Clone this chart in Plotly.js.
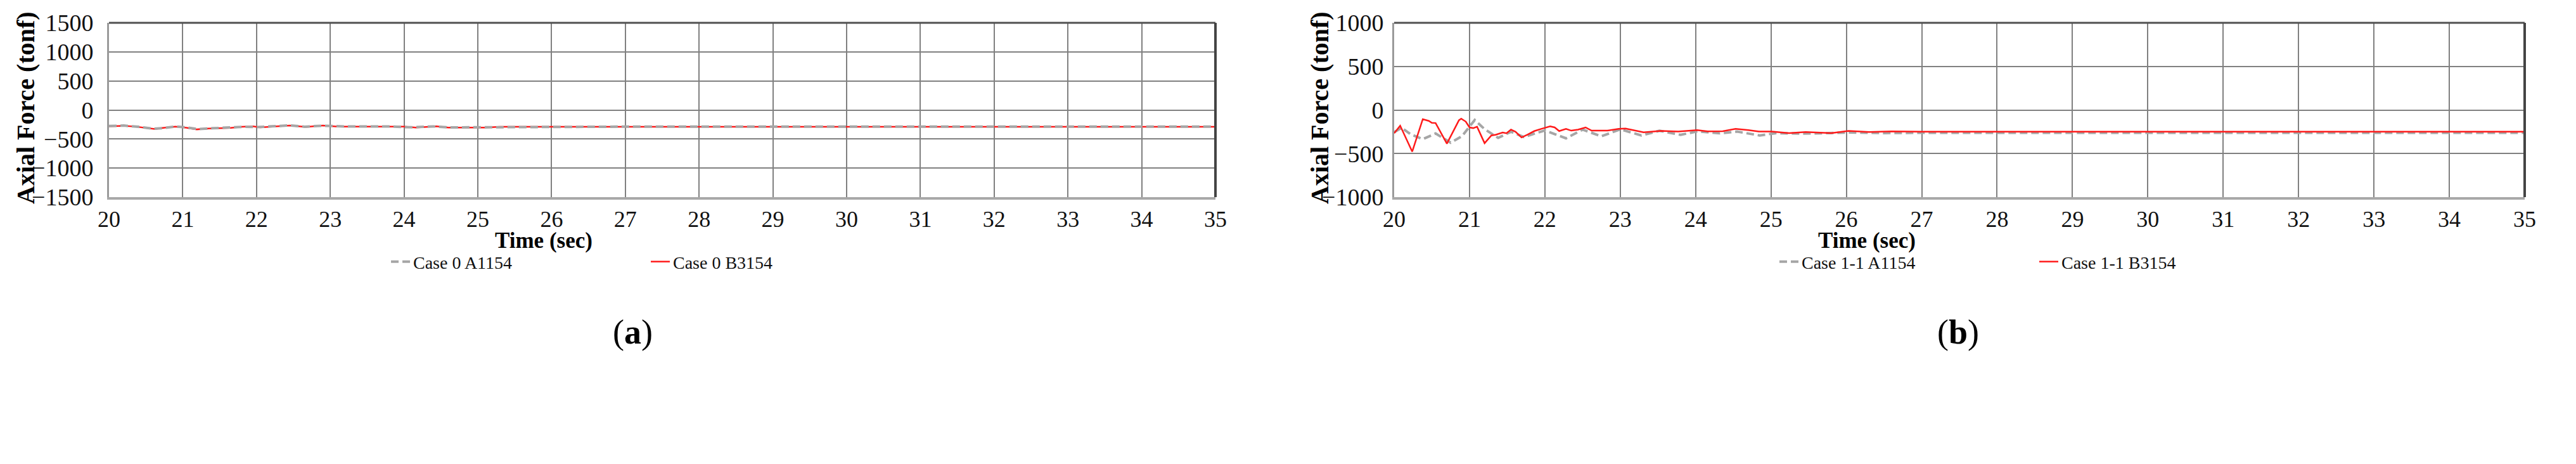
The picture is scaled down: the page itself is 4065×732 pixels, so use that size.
<!DOCTYPE html>
<html>
<head>
<meta charset="utf-8">
<script src="https://cdn.plot.ly/plotly-3.0.1.min.js"></script>
<style>
html, body { margin: 0; padding: 0; background: #fff; }
#plot { width: 4065px; height: 732px; }
</style>
</head>
<body>
<div id="plot"></div>
<script>
// (a) Case 0
const timeA1154_c0 = [20.0, 20.2, 20.4, 20.6, 20.75, 20.9, 21.05, 21.2, 21.4, 21.6, 21.85, 22.0, 22.2, 22.45, 22.65, 22.9, 23.2, 23.8, 24.1, 24.4, 24.6, 25.1, 25.4, 27, 29, 31, 33, 35];
const forceA1154_c0 = [-275, -268, -290, -322, -310, -283, -300, -328, -315, -306, -288, -295, -282, -265, -288, -270, -285, -285, -298, -283, -300, -298, -287, -287, -287, -287, -287, -287];
const timeB3154_c0 = [20.0, 20.2, 20.35, 20.5, 20.62, 20.75, 20.9, 21.05, 21.19, 21.35, 21.5, 21.65, 21.8, 21.95, 22.05, 22.25, 22.45, 22.67, 22.9, 23.1, 23.5, 24.0, 24.16, 24.3, 24.44, 24.6, 24.9, 25.1, 25.3, 27, 29, 31, 33, 35];
const forceB3154_c0 = [-282, -272, -285, -310, -326, -305, -287, -305, -334, -318, -312, -308, -290, -282, -300, -280, -268, -292, -268, -287, -287, -287, -303, -295, -282, -303, -300, -303, -289, -289, -289, -289, -289, -289];

// (b) Case 1-1
const timeA1154_c11 = [20.0, 20.1, 20.22, 20.38, 20.55, 20.75, 20.9, 21.07, 21.2, 21.38, 21.55, 21.72, 22.0, 22.28, 22.5, 22.75, 23.0, 23.28, 23.52, 23.8, 24.03, 24.32, 24.55, 24.85, 25.07, 25.4, 25.75, 26.05, 26.5, 27, 29, 31, 33, 35];
const forceA1154_c11 = [-255, -205, -280, -335, -270, -375, -300, -115, -220, -320, -250, -310, -235, -325, -225, -302, -222, -292, -238, -285, -245, -268, -248, -292, -266, -272, -266, -258, -265, -262, -262, -262, -262, -262];
const timeB3154_c11 = [20.0, 20.08, 20.24, 20.38, 20.46, 20.5, 20.55, 20.7, 20.86, 20.89, 20.95, 21.0, 21.05, 21.1, 21.2, 21.29, 21.35, 21.44, 21.49, 21.55, 21.61, 21.69, 21.77, 21.86, 21.95, 22.07, 22.13, 22.19, 22.28, 22.35, 22.44, 22.54, 22.62, 22.83, 22.98, 23.07, 23.31, 23.54, 23.77, 24.02, 24.16, 24.36, 24.53, 24.7, 24.84, 25.01, 25.24, 25.46, 25.8, 26.03, 26.3, 26.6, 27, 29, 31, 33, 35];
const forceB3154_c11 = [-267, -180, -478, -105, -125, -147, -150, -386, -117, -100, -133, -200, -208, -192, -381, -292, -283, -258, -267, -225, -250, -315, -283, -242, -217, -187, -200, -242, -217, -237, -225, -200, -237, -237, -217, -213, -257, -240, -248, -231, -245, -243, -217, -231, -248, -248, -266, -253, -266, -240, -253, -245, -250, -250, -250, -250, -250];

const xTicks = [20, 21, 22, 23, 24, 25, 26, 27, 28, 29, 30, 31, 32, 33, 34, 35];

const W = 4065, H = 732;
const px = v => v / W;
const py = v => 1 - v / H;

const serif = 'Liberation Serif, Times New Roman, serif';
const grayLine = { color: '#a6a6a6', width: 4, dash: '12px,6px' };
const redLine = { color: '#ff1a1a', width: 2.5 };

const traces = [
    { x: timeB3154_c0, y: forceB3154_c0, xaxis: 'x', yaxis: 'y', mode: 'lines', name: 'Case 0 B3154', line: redLine, legend: 'legend', legendrank: 2 },
    { x: timeA1154_c0, y: forceA1154_c0, xaxis: 'x', yaxis: 'y', mode: 'lines', name: 'Case 0 A1154', line: grayLine, legend: 'legend', legendrank: 1 },
    { x: timeA1154_c11, y: forceA1154_c11, xaxis: 'x2', yaxis: 'y2', mode: 'lines', name: 'Case 1-1 A1154', line: grayLine, legend: 'legend2', legendrank: 1 },
    { x: timeB3154_c11, y: forceB3154_c11, xaxis: 'x2', yaxis: 'y2', mode: 'lines', name: 'Case 1-1 B3154', line: redLine, legend: 'legend2', legendrank: 2 }
];

function xAxis(left, right, anchor) {
    return {
        domain: [px(left), px(right)], anchor: anchor, range: [20, 35],
        tickvals: xTicks, showgrid: true, gridcolor: '#808080', gridwidth: 2,
        showline: true, linecolor: '#a8a8a8', linewidth: 4, zeroline: false,
        ticks: '', ticklabelstandoff: 0,
        tickfont: { family: serif, size: 36, color: '#111' }
    };
}
function yAxis(lim, anchor, standoff) {
    return {
        domain: [py(311), py(36)], anchor: anchor, range: [-lim, lim], dtick: 500,
        showgrid: true, gridcolor: '#808080', gridwidth: 2,
        showline: true, linecolor: '#9a9a9a', linewidth: 3, zeroline: false,
        ticks: '', ticklabelstandoff: standoff,
        tickfont: { family: serif, size: 38, color: '#111' }
    };
}
function frame(xr, yr) {
    return [
        { type: 'line', xref: xr + ' domain', yref: yr + ' domain', x0: 0, x1: 1, y0: 1, y1: 1, line: { color: '#505050', width: 3 } },
        { type: 'line', xref: xr + ' domain', yref: yr + ' domain', x0: 1, x1: 1, y0: 0, y1: 1, line: { color: '#444', width: 4 } }
    ];
}
function legendAt(xLeft) {
    return {
        orientation: 'h', x: px(xLeft), xanchor: 'left', y: py(413), yanchor: 'middle',
        entrywidth: 365, bgcolor: 'rgba(0,0,0,0)',
        font: { family: serif, size: 28, color: '#111' }
    };
}
function note(text, x, y, size, bold, angle) {
    return {
        text: bold ? '<b>' + text + '</b>' : text, xref: 'paper', yref: 'paper',
        x: px(x), y: py(y), xanchor: 'center', yanchor: 'middle', showarrow: false,
        textangle: angle || 0, font: { family: serif, size: size, color: '#000' }
    };
}

const layout = {
    width: W, height: H,
    margin: { l: 0, r: 0, t: 0, b: 0 },
    paper_bgcolor: '#fff', plot_bgcolor: '#fff',
    showlegend: true,
    xaxis: xAxis(172, 1918, 'y'),
    yaxis: yAxis(1500, 'x', 14),
    xaxis2: xAxis(2200, 3984, 'y2'),
    yaxis2: yAxis(1000, 'x2', 6),
    legend: legendAt(612),
    legend2: legendAt(2803),
    shapes: [...frame('x', 'y'), ...frame('x2', 'y2')],
    annotations: [
        note('Axial Force (tonf)', 40, 170, 40, true, -90),
        note('Axial Force (tonf)', 2082, 170, 40, true, -90),
        note('Time (sec)', 858, 379, 35, true),
        note('Time (sec)', 2946, 379, 35, true),
        note('(<b>a</b>)', 998, 524, 54, false),
        note('(<b>b</b>)', 3090, 524, 54, false)
    ]
};

Plotly.newPlot('plot', traces, layout, { staticPlot: true });
</script>
</body>
</html>
